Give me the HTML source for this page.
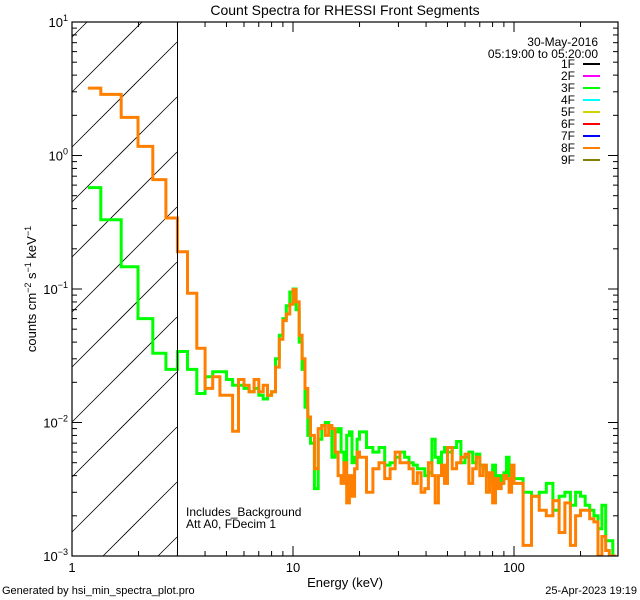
<!DOCTYPE html>
<html><head><meta charset="utf-8"><style>
html,body{margin:0;padding:0;background:#fff;width:640px;height:600px;overflow:hidden;}
svg{display:block;overflow:hidden;}
text{font-family:"Liberation Sans",sans-serif;fill:#000;}
</style></head><body>
<svg id="chart" width="640" height="600" viewBox="0 0 640 600">
<rect x="0" y="0" width="640" height="600" fill="#fff"/>
<defs><clipPath id="plotclip"><rect x="72" y="22" width="546" height="534"/></clipPath></defs>
<g id="hatch"></g>
<g id="series" clip-path="url(#plotclip)"></g>
<g id="axes"></g>
<text x="345" y="15" font-size="14" text-anchor="middle">Count Spectra for RHESSI Front Segments</text>
<text x="345" y="587" font-size="13" text-anchor="middle">Energy (keV)</text>
<text transform="translate(36,289) rotate(-90)" font-size="13" text-anchor="middle">counts cm<tspan dy="-5" font-size="9">−2</tspan><tspan dy="5"> s</tspan><tspan dy="-5" font-size="9">−1</tspan><tspan dy="5"> keV</tspan><tspan dy="-5" font-size="9">−1</tspan></text>
<text x="2" y="594" font-size="11">Generated by hsi_min_spectra_plot.pro</text>
<text x="637" y="594" font-size="11" text-anchor="end">25-Apr-2023 19:19</text>
<text x="186" y="516" font-size="12">Includes_Background</text>
<text x="186" y="528" font-size="12">Att A0, FDecim 1</text>
<text x="598" y="46" font-size="12" text-anchor="end">30-May-2016</text>
<text x="598" y="58" font-size="12" text-anchor="end">05:19:00 to 05:20:00</text>
<g id="legend"></g>
</svg>
<script>
const edges=[1.18,1.35,1.67,1.99,2.32,2.66,3.0,3.33,3.67,4,4.33,4.67,5,5.33,5.67,6,6.33,6.67,7,7.33,7.67,8,8.33,8.67,9,9.33,9.67,10,10.33,10.67,11,11.33,11.67,12,
12.5,13,13.5,14,14.5,15,15.5,16,16.5,17,17.5,18,18.5,19,19.5,20,
21.5,23,24.5,26,27.5,29,30.5,32,33.5,35,36.5,38,39.5,41,42.5,44,45.5,47,48.5,50,
52.5,55,57.5,60,62.5,65,67.5,70,72.5,75,77.5,80,82.5,85,87.5,90,92.5,95,97.5,100,
110,120,130,140,150,160,170,180,190,200,210,220,230,240,250,260,270,280,290];
const seg8=[3.2,2.87,1.93,1.17,0.66,0.34,
0.19,0.093,0.036,0.018,0.022,0.016,0.016,0.0086,0.021,0.019,0.017,0.021,0.017,0.019,0.016,0.017,0.026,0.042,0.058,0.065,0.077,0.099,0.08,0.045,0.03,0.018,0.011,
0.008,0.0045,0.009,0.0095,0.008,0.0095,0.009,0.006,0.004,0.0035,0.005,0.0025,0.004,0.0028,0.0045,0.006,
0.0055,0.003,0.0045,0.005,0.0038,0.0045,0.006,0.005,0.005,0.0045,0.0035,0.0042,0.003,0.0032,0.005,0.004,0.0025,0.004,0.0048,0.0035,
0.0065,0.0045,0.005,0.0055,0.0058,0.0035,0.0045,0.0055,0.004,0.0048,0.003,0.0042,0.0025,0.0038,0.0032,0.0035,0.004,0.0038,0.003,0.0048,
0.0035,0.0012,0.0028,0.0022,0.002,0.0026,0.0015,0.0025,0.0012,0.002,0.0022,0.0022,0.0019,0.0018,0.001,0.0014,0.0011,0.001,0.0009];
const seg3=[0.575,0.33,0.147,0.06,0.033,0.025,
0.034,0.025,0.0165,0.022,0.024,0.024,0.021,0.019,0.019,0.018,0.017,0.018,0.016,0.015,0.016,0.017,0.03,0.045,0.06,0.075,0.095,0.1,0.07,0.04,0.025,0.013,0.008,
0.007,0.0032,0.0075,0.0095,0.01,0.0092,0.0055,0.0085,0.009,0.006,0.0048,0.008,0.0085,0.005,0.0055,0.0075,
0.0085,0.0065,0.006,0.0065,0.0048,0.005,0.0055,0.006,0.0055,0.005,0.0048,0.0045,0.0045,0.004,0.0042,0.0075,0.0055,0.005,0.006,0.0065,
0.006,0.0065,0.0072,0.005,0.0055,0.006,0.005,0.0058,0.0048,0.0045,0.004,0.0035,0.0048,0.0038,0.004,0.0035,0.0042,0.0055,0.004,0.0042,
0.0038,0.003,0.0028,0.003,0.0035,0.0022,0.0028,0.003,0.0024,0.003,0.0028,0.0024,0.0022,0.002,0.0016,0.0024,0.0013,0.0013,0.001];
const legendLabels=["1F","2F","3F","4F","5F","6F","7F","8F","9F"];
const legendColors=["#000000","#ff00ff","#00ff00","#00ffff","#d4d400","#ff0000","#0000ff","#ff8000","#808000"];
const yTickLabels=["10","10","10","10","10"];
const yTickExps=["1","0","−1","−2","−3"];
const yTickVals=[10,1,0.1,0.01,0.001];
const xTickLabels=["1","10","100"];
const xTickVals=[1,10,100];

const NS="http://www.w3.org/2000/svg";
const X0=72,X1=618,Y0=22,Y1=556;
const xDec=221, xMax=Math.pow(10,(X1-X0)/xDec);
function xs(e){return X0+Math.log10(e)*xDec;}
function ys(v){return Y0+(1-Math.log10(v))*(Y1-Y0)/4;}
function mk(tag,attrs,parent){const el=document.createElementNS(NS,tag);for(const k in attrs)el.setAttribute(k,attrs[k]);parent.appendChild(el);return el;}
const svg=document.getElementById('chart');
const hatch=document.getElementById('hatch');
const HX=177;
for(let c=-600;c<700;c+=55){
  // line: y = k - x, with k = c+92+HX
  const k=c+92+HX;
  let xa=Math.max(X0,k-Y1), xb=Math.min(HX,k-Y0);
  if(xb<=xa)continue;
  const l=mk('line',{x1:xa,y1:k-xa,x2:xb,y2:k-xb,stroke:'#000','stroke-width':0.8},hatch);
  
  
}
const series=document.getElementById('series');
function stepPath(vals){
  let d='';
  for(let i=0;i<vals.length;i++){
    const x1=xs(edges[i]),x2=Math.min(xs(edges[i+1]),X1),y=Math.min(ys(Math.max(vals[i],0.0008)),Y1);
    d+=(i===0?'M':'L')+x1.toFixed(1)+','+y.toFixed(1)+'L'+x2.toFixed(1)+','+y.toFixed(1);
  }
  return d;
}
const p3=mk('path',{d:stepPath(seg3),fill:'none',stroke:'#00ff00','stroke-width':3,'stroke-linejoin':'miter'},series);


const p8=mk('path',{d:stepPath(seg8),fill:'none',stroke:'#ff8000','stroke-width':3,'stroke-linejoin':'miter'},series);



const axes=document.getElementById('axes');
const frame=mk('rect',{x:X0,y:Y0,width:X1-X0,height:Y1-Y0,fill:'none',stroke:'#000','stroke-width':1.2},axes);


const th=mk('line',{x1:177.5,y1:Y0,x2:177.5,y2:Y1,stroke:'#000','stroke-width':1},axes);


for(let d=-3;d<1;d++){
  for(let m=1;m<10;m++){
    const v=m*Math.pow(10,d),y=ys(v),len=m===1?10:5;
    mk('line',{x1:X0,y1:y,x2:X0+len,y2:y,stroke:'#000'},axes);
    mk('line',{x1:X1,y1:y,x2:X1-len,y2:y,stroke:'#000'},axes);
  }
}
yTickVals.forEach((v,i)=>{
  const y=ys(v);
  mk('line',{x1:X0,y1:y,x2:X0+10,y2:y,stroke:'#000'},axes);
  mk('line',{x1:X1,y1:y,x2:X1-10,y2:y,stroke:'#000'},axes);
  const t=mk('text',{x:X0-4,y:y+5,'font-size':13,'text-anchor':'end'},svg);
  
  
  t.innerHTML=yTickLabels[i]+'<tspan dy="-6" font-size="9">'+yTickExps[i]+'</tspan>';
});
for(let d=0;d<3;d++){
  for(let m=1;m<10;m++){
    const e=m*Math.pow(10,d); if(e>xMax)break;
    const x=xs(e),len=m===1?10:5;
    mk('line',{x1:x,y1:Y1,x2:x,y2:Y1-len,stroke:'#000'},axes);
    mk('line',{x1:x,y1:Y0,x2:x,y2:Y0+len,stroke:'#000'},axes);
  }
}
xTickVals.forEach((v,i)=>{
  const t=mk('text',{x:xs(v),y:572,'font-size':13,'text-anchor':'middle'},svg);
  
  
  t.textContent=xTickLabels[i];
});
const lg=document.getElementById('legend');
legendLabels.forEach((lab,i)=>{
  const y=64+i*12;
  const t=mk('text',{x:575,y:y+4,'font-size':12,'text-anchor':'end'},lg);
  
  
  t.textContent=lab;
  const l=mk('line',{x1:583,y1:y,x2:600,y2:y,stroke:legendColors[i],'stroke-width':2},lg);
  
  
});
</script>
</body></html>
